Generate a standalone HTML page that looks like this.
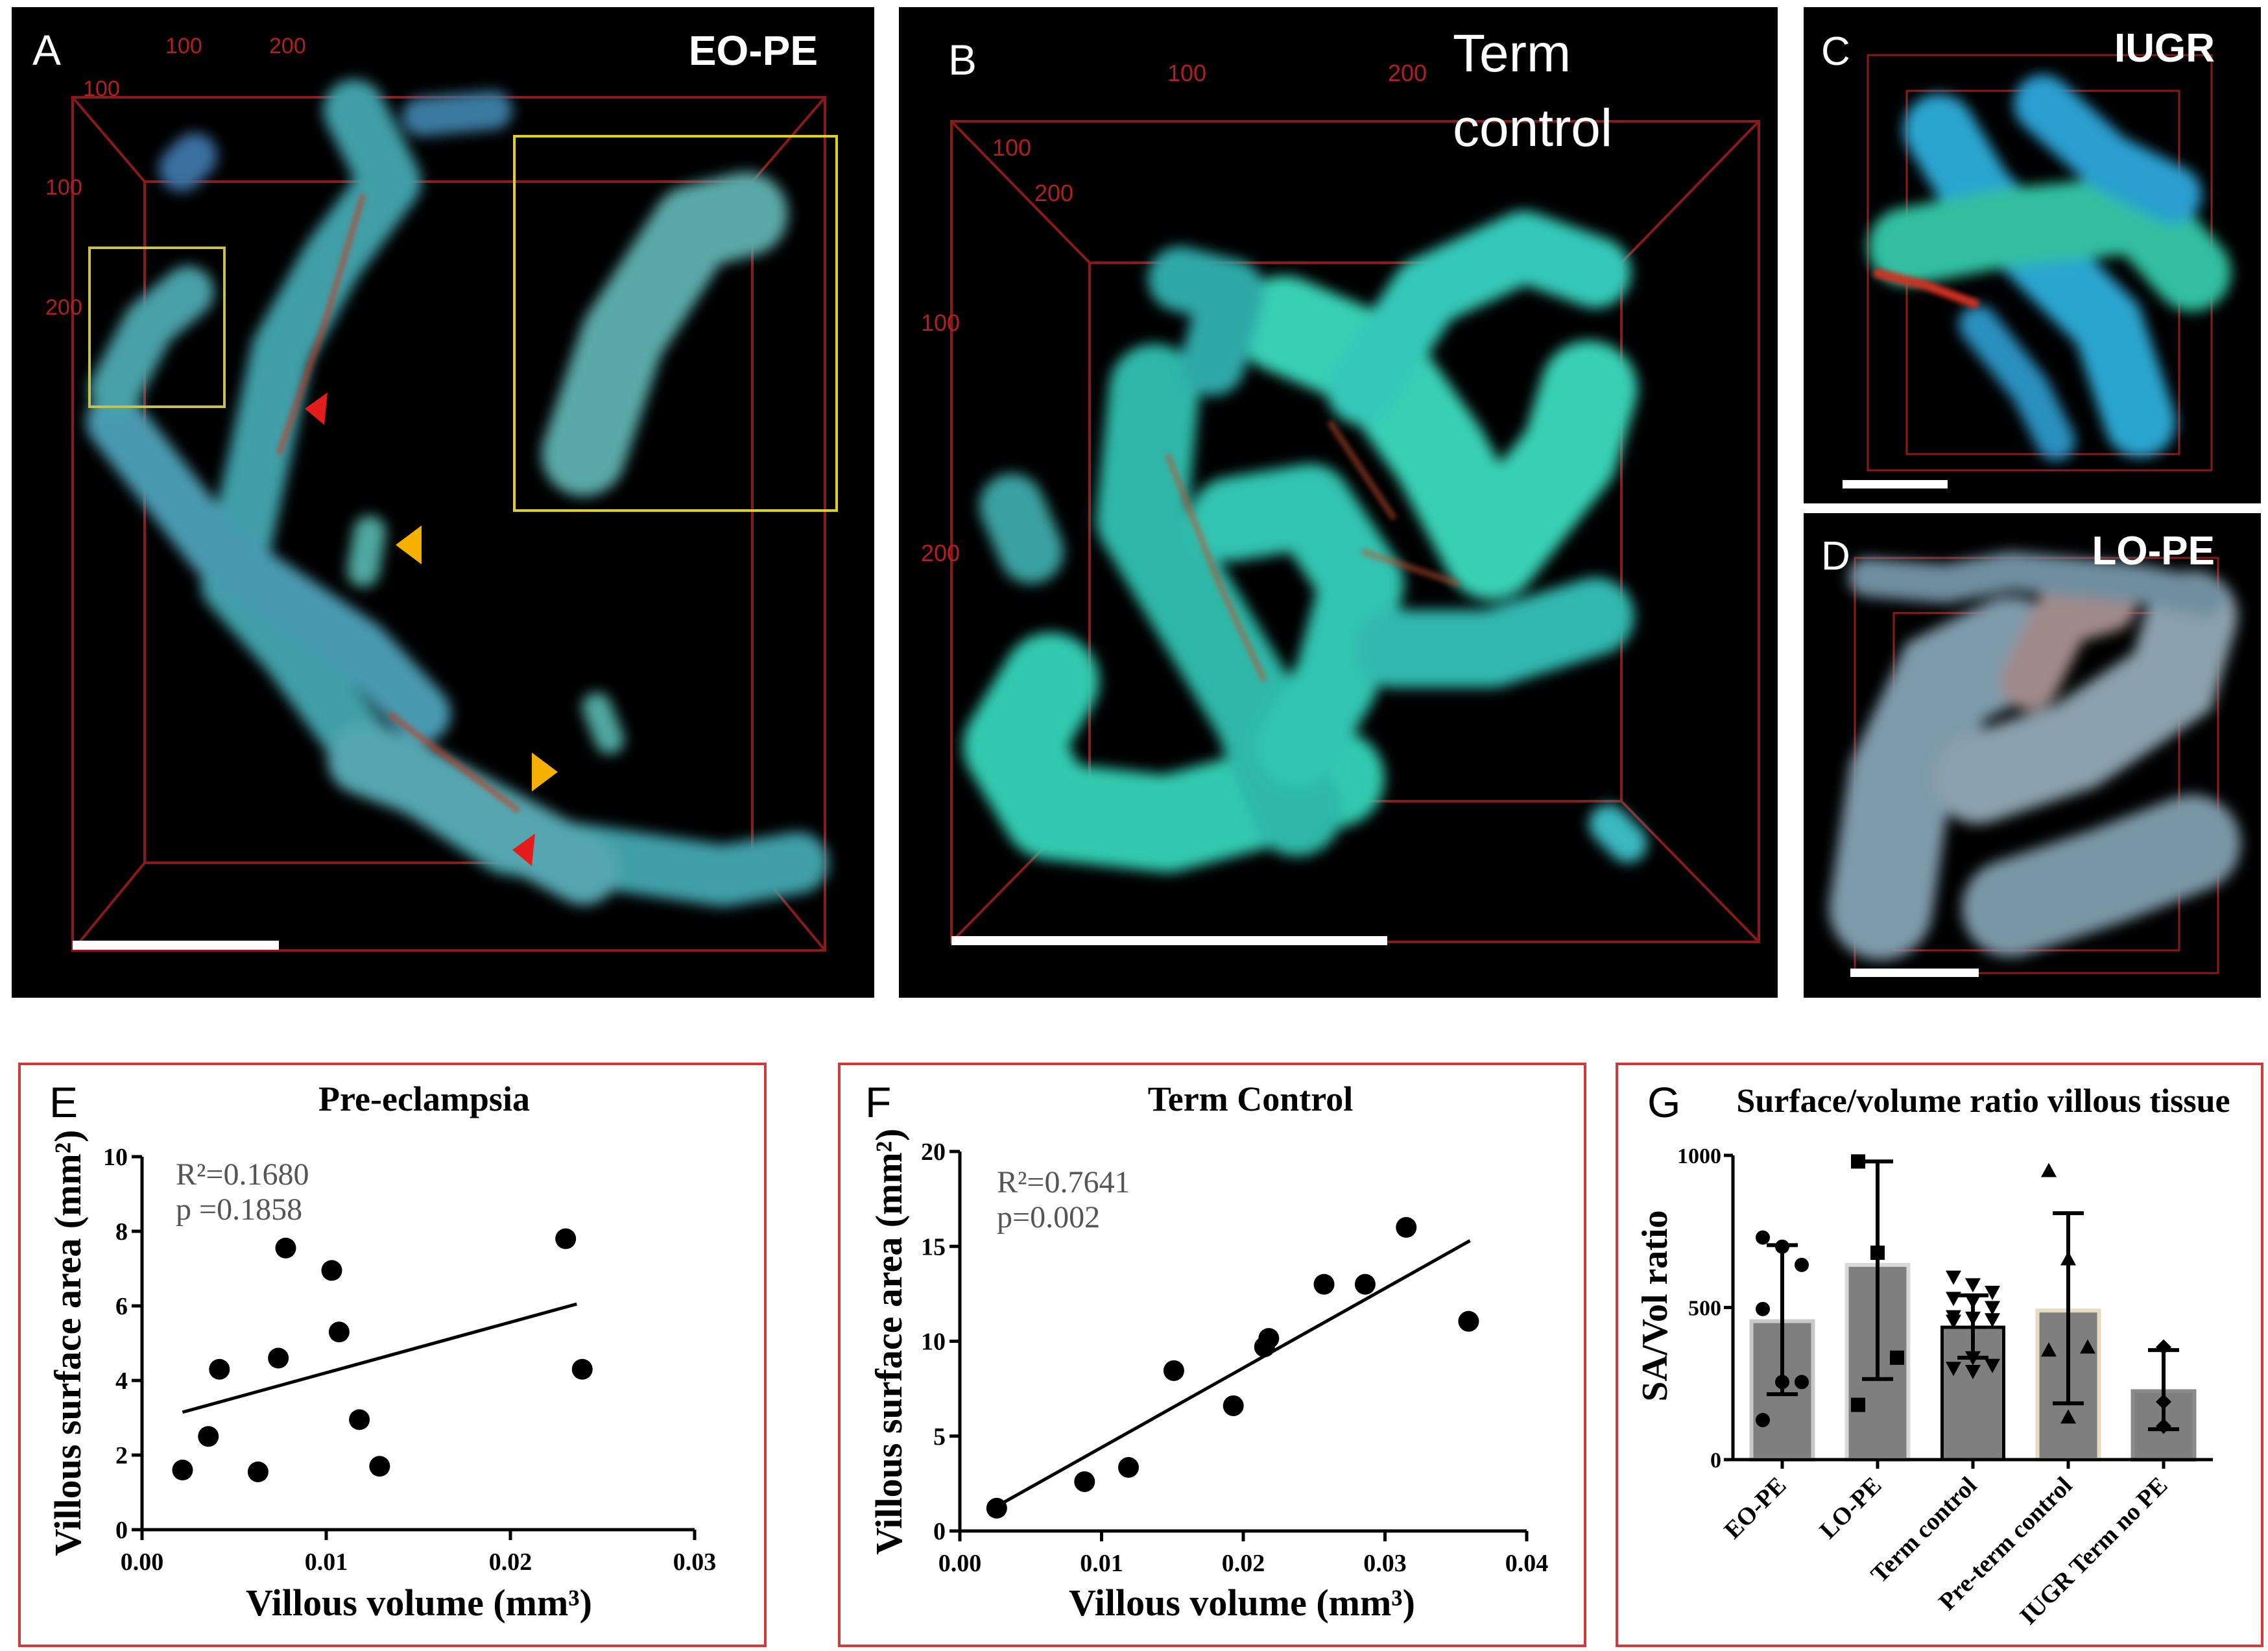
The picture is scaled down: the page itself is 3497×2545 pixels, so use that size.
<!DOCTYPE html>
<html><head><meta charset="utf-8"><style>
html,body{margin:0;padding:0;background:#fff;}
svg{display:block;}
</style></head><body>
<svg id="fig" width="3497" height="2545" viewBox="0 0 3497 2545" xmlns="http://www.w3.org/2000/svg">
<defs>
<filter id="blur" x="-20%" y="-20%" width="140%" height="140%"><feGaussianBlur stdDeviation="10"/></filter>
<filter id="blur2" x="-20%" y="-20%" width="140%" height="140%"><feGaussianBlur stdDeviation="4"/></filter>
</defs>
<rect width="3497" height="2545" fill="#fff"/>

<!-- Panel A -->
<g>
<rect x="18" y="11" width="1330" height="1527" fill="#000"/>
<g fill="none" stroke="#8a1a1a" stroke-width="4">
<rect x="112" y="150" width="1160" height="1315"/>
<rect x="223" y="280" width="937" height="1050"/>
<line x1="112" y1="150" x2="223" y2="280"/><line x1="1272" y1="150" x2="1160" y2="280"/>
<line x1="112" y1="1465" x2="223" y2="1330"/><line x1="1272" y1="1465" x2="1160" y2="1330"/>
</g>
<g fill="#b02020" font-family="Liberation Sans, sans-serif" font-size="34"><text x="255" y="82">100</text><text x="415" y="82">200</text><text x="70" y="300">100</text><text x="70" y="485">200</text><text x="128" y="148">100</text></g>
<g filter="url(#blur)" stroke-linecap="round" stroke-linejoin="round" fill="none">
<polyline points="546,170 602,280 513,400 435,540 401,700 357,900 446,1000 557,1150 780,1300 1115,1350 1230,1330" stroke="#3f9fa8" stroke-width="95"/>
<polyline points="178,650 335,850 557,1000 650,1100" stroke="#4a9ab0" stroke-width="90"/>
<polyline points="900,700 960,520 1070,350 1150,330" stroke="#5aa8a8" stroke-width="130"/>
<polyline points="178,600 230,500 290,450" stroke="#4aa0a8" stroke-width="80"/>
<polyline points="560,1170 640,1200 900,1340" stroke="#55a6b0" stroke-width="110"/>
<polyline points="280,260 300,240" stroke="#3a6fa0" stroke-width="70"/>
<polyline points="650,180 760,170" stroke="#3a7aa0" stroke-width="60"/>
<polyline points="570,820 560,880" stroke="#4fa8a0" stroke-width="50"/>
<polyline points="920,1090 940,1140" stroke="#4fa8a0" stroke-width="45"/>
</g>
<g filter="url(#blur2)" stroke="#c83a20" stroke-width="8" fill="none" opacity="0.7"><polyline points="560,300 500,500 430,700"/><polyline points="600,1100 800,1250"/></g>
<rect x="138" y="382" width="208" height="245" fill="none" stroke="#c8c050" stroke-width="4"/>
<rect x="793" y="210" width="497" height="577" fill="none" stroke="#e0d020" stroke-width="4"/>
<polygon points="470,630 505,605 500,655" fill="#e51c1c"/><polygon points="790,1310 825,1285 820,1335" fill="#e51c1c"/>
<polygon points="610,840 650,810 650,870" fill="#f5b000"/><polygon points="860,1190 820,1160 820,1220" fill="#f5b000"/>
<rect x="112" y="1450" width="318" height="14" fill="#fff"/>
<text x="50" y="100" fill="#fff" font-family="Liberation Sans, sans-serif" font-size="66">A</text>
<text x="1261" y="100" text-anchor="end" fill="#fff" font-family="Liberation Sans, sans-serif" font-weight="bold" font-size="64">EO-PE</text>
</g>

<!-- Panel B -->
<g>
<rect x="1386" y="11" width="1355" height="1527" fill="#000"/>
<g fill="none" stroke="#8a1a1a" stroke-width="4">
<rect x="1467" y="187" width="1245" height="1265"/>
<rect x="1680" y="405" width="820" height="830"/>
<line x1="1467" y1="187" x2="1680" y2="405"/><line x1="2712" y1="187" x2="2500" y2="405"/>
<line x1="1467" y1="1452" x2="1680" y2="1235"/><line x1="2712" y1="1452" x2="2500" y2="1235"/>
</g>
<g fill="#b02020" font-family="Liberation Sans, sans-serif" font-size="36"><text x="1800" y="125">100</text><text x="2140" y="125">200</text><text x="1420" y="510">100</text><text x="1420" y="865">200</text><text x="1530" y="240">100</text><text x="1595" y="310">200</text></g>
<g filter="url(#blur)" stroke-linecap="round" stroke-linejoin="round" fill="none">
<polyline points="1620,1050 1560,1150 1620,1250 1800,1270 1990,1220 2060,1200" stroke="#33c9b0" stroke-width="150"/>
<polyline points="1780,600 1760,800 1850,950 1940,1100 2000,1250" stroke="#2fb8a8" stroke-width="140"/>
<polyline points="1980,500 2120,560 2220,700 2300,850 2420,700 2450,600" stroke="#38d0b5" stroke-width="150"/>
<polyline points="1900,800 2020,780 2100,900 2060,1050 2000,1150" stroke="#30c4b0" stroke-width="130"/>
<polyline points="2100,600 2200,450 2350,380 2460,420" stroke="#35c8b8" stroke-width="110"/>
<polyline points="1820,430 1900,450 1870,560" stroke="#2fa8a8" stroke-width="100"/>
<polyline points="2150,1000 2300,1000 2460,950" stroke="#33b8b0" stroke-width="120"/>
<polyline points="1560,780 1590,850" stroke="#3aa0a0" stroke-width="100"/>
<polyline points="2480,1270 2510,1300" stroke="#3ab8c0" stroke-width="60"/>
</g>
<g filter="url(#blur2)" stroke="#c05030" stroke-width="10" fill="none" opacity="0.55"><polyline points="1800,700 1880,900 1950,1050"/><polyline points="2050,650 2150,800"/><polyline points="2100,850 2250,900"/></g>
<rect x="1467" y="1443" width="672" height="14" fill="#fff"/>
<text x="1462" y="115" fill="#fff" font-family="Liberation Sans, sans-serif" font-size="66">B</text>
<text x="2240" y="110" fill="#fff" font-family="Liberation Sans, sans-serif" font-size="82">Term</text>
<text x="2240" y="225" fill="#fff" font-family="Liberation Sans, sans-serif" font-size="82">control</text>
</g>

<!-- Panel C -->
<g>
<rect x="2781" y="11" width="705" height="765" fill="#000"/>
<g fill="none" stroke="#8a1a1a" stroke-width="3">
<rect x="2880" y="85" width="530" height="640"/><rect x="2940" y="140" width="420" height="560"/>
</g>
<g filter="url(#blur)" stroke-linecap="round" fill="none">
<polyline points="2990,200 3050,300 3150,400 3250,500 3300,650" stroke="#2aa5d0" stroke-width="110"/>
<polyline points="2940,380 3100,350 3300,330 3380,420" stroke="#30c0a0" stroke-width="120"/>
<polyline points="3150,160 3250,250 3350,300" stroke="#2a9fd0" stroke-width="90"/>
<polyline points="3050,500 3130,600 3170,680" stroke="#2a90c0" stroke-width="60"/>
</g>
<polyline filter="url(#blur2)" points="2890,420 2970,440 3050,470" stroke="#d03020" stroke-width="14" fill="none"/>
<rect x="2841" y="740" width="162" height="13" fill="#fff"/>
<text x="2808" y="100" fill="#fff" font-family="Liberation Sans, sans-serif" font-size="62">C</text>
<text x="3415" y="95" text-anchor="end" fill="#fff" font-family="Liberation Sans, sans-serif" font-weight="bold" font-size="62">IUGR</text>
</g>

<!-- Panel D -->
<g>
<rect x="2781" y="791" width="705" height="747" fill="#000"/>
<g fill="none" stroke="#8a1a1a" stroke-width="3">
<rect x="2860" y="860" width="560" height="640"/><rect x="2920" y="945" width="440" height="520"/>
</g>
<g filter="url(#blur)" stroke-linecap="round" fill="none">
<polyline points="2900,1400 2930,1200 3000,1050 3100,1000" stroke="#7e9aaa" stroke-width="160"/>
<polyline points="3050,1200 3200,1150 3350,1050 3380,950" stroke="#8aa0ac" stroke-width="140"/>
<polyline points="3100,1400 3250,1350 3380,1300" stroke="#7a96a6" stroke-width="150"/>
<polyline points="3130,1050 3180,950 3250,930" stroke="#a08a8a" stroke-width="90"/>
<polyline points="2880,890 3000,900 3100,880 3300,900 3400,920" stroke="#6f8ea0" stroke-width="60"/>
</g>
<rect x="2853" y="1493" width="198" height="13" fill="#fff"/>
<text x="2808" y="878" fill="#fff" font-family="Liberation Sans, sans-serif" font-size="62">D</text>
<text x="3415" y="870" text-anchor="end" fill="#fff" font-family="Liberation Sans, sans-serif" font-weight="bold" font-size="62">LO-PE</text>
</g>

<!-- chart boxes -->
<rect x="30" y="1640" width="1150" height="897" fill="none" stroke="#d03a3a" stroke-width="4"/>
<rect x="1294" y="1640" width="1150" height="897" fill="none" stroke="#d03a3a" stroke-width="4"/>
<rect x="2493" y="1640" width="995" height="897" fill="none" stroke="#d03a3a" stroke-width="4"/>
<g id="charts"></g>
</svg>
<script>
// Panel E data
const eX = [0.0022,0.0036,0.0042,0.0063,0.0074,0.0078,0.0103,0.0107,0.0118,0.0129,0.0230,0.0239];
const eY = [1.6,2.5,4.3,1.55,4.6,7.55,6.95,5.3,2.95,1.7,7.8,4.3];
const eFitX = [0.0022,0.0236];
const eFitY = [3.15,6.05];
const eXTicks = [0,0.01,0.02,0.03];
const eXTickLabels = ["0.00","0.01","0.02","0.03"];
const eYTicks = [0,2,4,6,8,10];
// Panel F data
const fX = [0.0026,0.0088,0.0119,0.0151,0.0193,0.0215,0.0218,0.0257,0.0286,0.0315,0.0359];
const fY = [1.2,2.6,3.35,8.45,6.6,9.7,10.15,13,13,16,11.05];
const fFitX = [0.0026,0.0360];
const fFitY = [1.3,15.3];
const fXTicks = [0,0.01,0.02,0.03,0.04];
const fXTickLabels = ["0.00","0.01","0.02","0.03","0.04"];
const fYTicks = [0,5,10,15,20];
// Panel G data
const gCats = ["EO-PE","LO-PE","Term control","Pre-term control","IUGR Term no PE"];
const gMeans = [455,640,435,490,225];
const gErrLo = [215,265,335,185,100];
const gErrHi = [705,980,540,810,360];
const gPts0 = [730,700,640,495,255,255,130];
const gPts1 = [980,680,335,180];
const gPts2 = [600,575,550,530,520,500,470,465,460,455,335,310,300,290];
const gPts3 = [950,660,370,360,140];
const gPts4 = [370,190,110];
const gYTicks = [0,500,1000];

const NS="http://www.w3.org/2000/svg";
const root=document.getElementById('charts');
function mk(tag,attrs,parent){const e=document.createElementNS(NS,tag);for(const k in attrs)e.setAttribute(k,attrs[k]);(parent||root).appendChild(e);return e;}
const SERIF='"Liberation Serif", serif';

function scatter(cfg){
  const g=mk('g',{});
  
  
  const sx=v=>cfg.x0+(v-cfg.xmin)/(cfg.xmax-cfg.xmin)*(cfg.x1-cfg.x0);
  const sy=v=>cfg.y0-(v-cfg.ymin)/(cfg.ymax-cfg.ymin)*(cfg.y0-cfg.y1);
  const ax=mk('path',{d:`M${cfg.x0},${cfg.y1} L${cfg.x0},${cfg.y0} L${cfg.x1},${cfg.y0}`,fill:'none',stroke:'#000','stroke-width':5},g);
  
  
  cfg.yt.forEach(v=>{
    mk('line',{x1:cfg.x0-16,x2:cfg.x0,y1:sy(v),y2:sy(v),stroke:'#000','stroke-width':5},g);
    const t=mk('text',{x:cfg.x0-22,y:sy(v)+13,'text-anchor':'end','font-family':SERIF,'font-weight':'bold','font-size':38},g);
    t.textContent=v;
    
    
  });
  cfg.xt.forEach((v,i)=>{
    mk('line',{x1:sx(v),x2:sx(v),y1:cfg.y0,y2:cfg.y0+16,stroke:'#000','stroke-width':5},g);
    const t=mk('text',{x:sx(v),y:cfg.y0+62,'text-anchor':'middle','font-family':SERIF,'font-weight':'bold','font-size':38},g);
    t.textContent=cfg.xl[i];
    
    
  });
  const fl=mk('line',{x1:sx(cfg.fx[0]),y1:sy(cfg.fy[0]),x2:sx(cfg.fx[1]),y2:sy(cfg.fy[1]),stroke:'#000','stroke-width':5},g);
  
  
  cfg.px.forEach((v,i)=>{
    const c=mk('circle',{cx:sx(v),cy:sy(cfg.py[i]),r:16,fill:'#000'},g);
    
    
  });
}
scatter({name:'panel-e-scatter',x0:219,x1:1071,y0:2358,y1:1783,xmin:0,xmax:0.03,ymin:0,ymax:10,xt:eXTicks,xl:eXTickLabels,yt:eYTicks,px:eX,py:eY,fx:eFitX,fy:eFitY});
scatter({name:'panel-f-scatter',x0:1480,x1:2354,y0:2360,y1:1775,xmin:0,xmax:0.04,ymin:0,ymax:20,xt:fXTicks,xl:fXTickLabels,yt:fYTicks,px:fX,py:fY,fx:fFitX,fy:fFitY});

// Panel G
(function(){
  const g=mk('g',{});
  
  
  const x0=2672,x1=3412,y0=2250,y1=1781;
  const sy=v=>y0-v/1000*(y0-y1);
  const step=147, first=2748, bw=95;
  const cx=i=>first+i*step;
  const edge=['#c8c8c8','#d8d8d8','#000','#e8dcc0','#8a8a8a'];
  gMeans.forEach((m,i)=>{
    const r=mk('rect',{x:cx(i)-bw/2,y:sy(m),width:bw,height:y0-sy(m),fill:'#7f7f7f',stroke:edge[i],'stroke-width':i==2?5:6},g);
    
    
  });
  const pts=[gPts0,gPts1,gPts2,gPts3,gPts4];
  pts.forEach((arr,i)=>{
    arr.forEach((v,j)=>{
      const n=arr.length;
      const off=(n>3)?((j%3)-1)*30:0;
      const x=cx(i)+off, y=sy(v);
      let e;
      if(i==0) e=mk('circle',{cx:x,cy:y,r:11,fill:'#000'},g);
      else if(i==1) e=mk('rect',{x:x-11,y:y-11,width:22,height:22,fill:'#000'},g);
      else if(i==2) e=mk('polygon',{points:`${x-12},${y-10} ${x+12},${y-10} ${x},${y+12}`,fill:'#000'},g);
      else if(i==3) e=mk('polygon',{points:`${x-12},${y+10} ${x+12},${y+10} ${x},${y-12}`,fill:'#000'},g);
      else e=mk('polygon',{points:`${x},${y-12} ${x+12},${y} ${x},${y+12} ${x-12},${y}`,fill:'#000'},g);
      
      
    });
  });
  gMeans.forEach((m,i)=>{
    const p=mk('path',{d:`M${cx(i)},${sy(gErrLo[i])} L${cx(i)},${sy(gErrHi[i])} M${cx(i)-24},${sy(gErrLo[i])} L${cx(i)+24},${sy(gErrLo[i])} M${cx(i)-24},${sy(gErrHi[i])} L${cx(i)+24},${sy(gErrHi[i])}`,stroke:'#000','stroke-width':6,fill:'none'},g);
    
    
  });
  const ax=mk('path',{d:`M${x0},${y1} L${x0},${y0} L${x1},${y0}`,fill:'none',stroke:'#000','stroke-width':5},g);
  
  
  gYTicks.forEach(v=>{
    mk('line',{x1:x0-14,x2:x0,y1:sy(v),y2:sy(v),stroke:'#000','stroke-width':5},g);
    const t=mk('text',{x:x0-18,y:sy(v)+12,'text-anchor':'end','font-family':SERIF,'font-weight':'bold','font-size':34},g);
    t.textContent=v;
    
    
  });
  gCats.forEach((c,i)=>{
    mk('line',{x1:cx(i),x2:cx(i),y1:y0,y2:y0+14,stroke:'#000','stroke-width':5},g);
    const t=mk('text',{x:cx(i)+8,y:y0+42,'text-anchor':'end','font-family':SERIF,'font-weight':'bold','font-size':38,transform:`rotate(-45 ${cx(i)+8} ${y0+42})`},g);
    t.textContent=c;
    
    
  });
})();
</script>
<script>
(function(){
const NS="http://www.w3.org/2000/svg";
const svg=document.getElementById('fig');
function txt(s,a,name){const t=document.createElementNS(NS,'text');for(const k in a)t.setAttribute(k,a[k]);t.textContent=s;


svg.appendChild(t);return t;}
const B={'font-family':'"Liberation Serif", serif','font-weight':'bold'};
const S={'font-family':'"Liberation Sans", sans-serif'};
const R={'font-family':'"Liberation Serif", serif',fill:'#555','font-size':48};
txt('E',Object.assign({x:76,y:1722,'font-size':66},S),'panel-e-label');
txt('Pre-eclampsia',Object.assign({x:654,y:1712,'font-size':54,'text-anchor':'middle'},B),'panel-e-title');
txt('Villous volume (mm³)',Object.assign({x:646,y:2490,'font-size':58,'text-anchor':'middle'},B),'panel-e-x-title');
txt('Villous surface area (mm²)',Object.assign({x:124,y:2070,'font-size':58,'text-anchor':'middle',transform:'rotate(-90 124 2070)'},B),'panel-e-y-title');
txt('R²=0.1680',Object.assign({x:271,y:1826},R),'panel-e-r2');
txt('p  =0.1858',Object.assign({x:271,y:1880},R),'panel-e-p');
txt('F',Object.assign({x:1334,y:1722,'font-size':66},S),'panel-f-label');
txt('Term Control',Object.assign({x:1928,y:1712,'font-size':54,'text-anchor':'middle'},B),'panel-f-title');
txt('Villous volume (mm³)',Object.assign({x:1915,y:2490,'font-size':58,'text-anchor':'middle'},B),'panel-f-x-title');
txt('Villous surface area (mm²)',Object.assign({x:1390,y:2068,'font-size':58,'text-anchor':'middle',transform:'rotate(-90 1390 2068)'},B),'panel-f-y-title');
txt('R²=0.7641',Object.assign({x:1537,y:1838},R),'panel-f-r2');
txt('p=0.002',Object.assign({x:1537,y:1892},R),'panel-f-p');
txt('G',Object.assign({x:2540,y:1722,'font-size':66},S),'panel-g-label');
txt('Surface/volume ratio villous tissue',Object.assign({x:3058,y:1714,'font-size':52,'text-anchor':'middle'},B),'panel-g-title');
txt('SA/Vol ratio',Object.assign({x:2570,y:2013,'font-size':56,'text-anchor':'middle',transform:'rotate(-90 2570 2013)'},B),'panel-g-y-title');
})();
</script>
</body></html>
